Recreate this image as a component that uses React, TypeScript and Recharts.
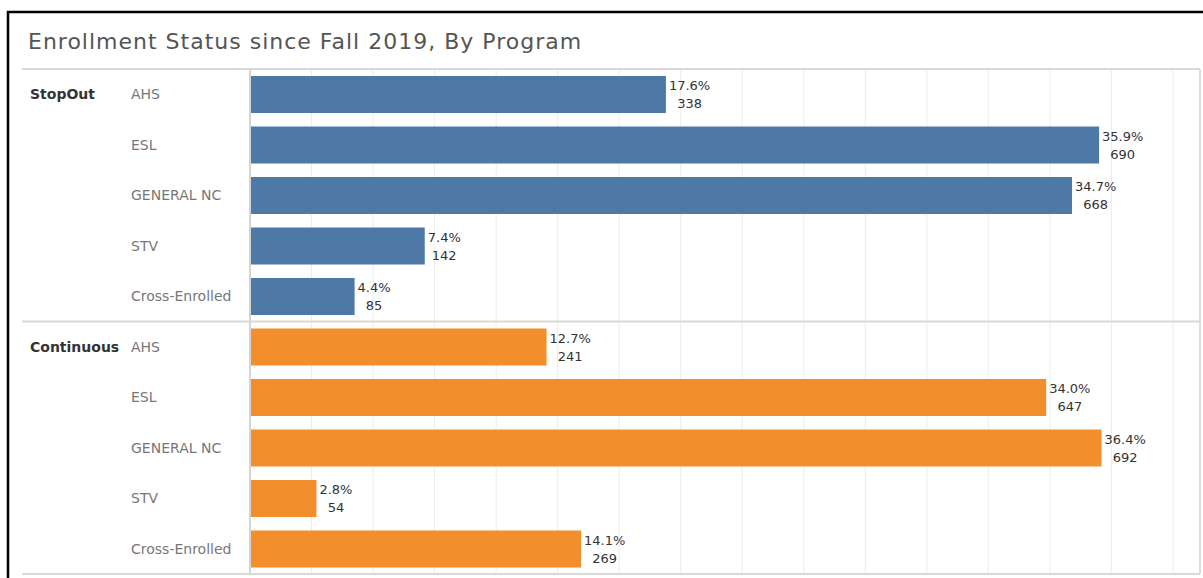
import React from "react";
import {
  Bar,
  BarChart,
  CartesianGrid,
  Cell,
  LabelList,
  ReferenceLine,
  XAxis,
  YAxis,
} from "recharts";

const programs = ["AHS", "ESL", "GENERAL NC", "STV", "Cross-Enrolled"];
const groups = ["StopOut", "Continuous"];
const stopOutCounts = [338, 690, 668, 142, 85];
const stopOutShares = [17.6, 35.9, 34.7, 7.4, 4.4];
const continuousCounts = [241, 647, 692, 54, 269];
const continuousShares = [12.7, 34.0, 36.4, 2.8, 14.1];
const countTicks = [0, 50, 100, 150, 200, 250, 300, 350, 400, 450, 500, 550, 600, 650, 700, 750];
const countMax = 772;
const groupColors = ["#4e79a7", "#f28e2b"];

const rows = [
  ...programs.map((p, i) => ({ key: `${groups[0]}|${p}`, group: 0, count: stopOutCounts[i], share: stopOutShares[i] })),
  ...programs.map((p, i) => ({ key: `${groups[1]}|${p}`, group: 1, count: continuousCounts[i], share: continuousShares[i] })),
];

const W = 1203;
const H = 578;
const TOP = 69;
const BOTTOM = 4;
const ROW_H = (H - TOP - BOTTOM) / rows.length;
const FONT = "'DejaVu Sans', sans-serif";

function ProgramTick(props: any) {
  const { y, payload, index } = props;
  const [group, program] = String(payload.value).split("|");
  const first = index % programs.length === 0;
  const last = index === rows.length - 1;
  return (
    <g>
      {first && (
        <>
          <line x1={22} x2={1200} y1={y - ROW_H / 2} y2={y - ROW_H / 2} stroke="#d9d9d9" strokeWidth={2} />
          <text x={30} y={y} dy="0.35em" fontSize={14} fontWeight={700} fill="#333" fontFamily={FONT}>
            {group}
          </text>
        </>
      )}
      {last && <line x1={22} x2={1200} y1={y + ROW_H / 2} y2={y + ROW_H / 2} stroke="#d9d9d9" strokeWidth={2} />}
      <text x={131} y={y} dy="0.35em" fontSize={14} fill="#777" fontFamily={FONT}>
        {program}
      </text>
    </g>
  );
}

// rough DejaVu Sans widths at 13px, to centre the count under the share
function textWidth(s: string) {
  let w = 0;
  for (const c of s) w += c === "." ? 4.1 : c === "%" ? 12.3 : 8.3;
  return w;
}

function ValueLabel(props: any) {
  const { x, y, width, height, value, index } = props;
  const pct = `${rows[index].share.toFixed(1)}%`;
  const end = x + width + 3;
  const cy = y + height / 2;
  return (
    <g fontFamily={FONT} fontSize={13} fill="#333">
      <text x={end} y={cy - 9} dy="0.35em">{pct}</text>
      <text x={end + textWidth(pct) / 2} y={cy + 9} dy="0.35em" textAnchor="middle">{value}</text>
    </g>
  );
}

export default function App() {
  return (
    <div style={{ position: "absolute", left: 0, top: 0, width: W, height: H, background: "#fff", overflow: "hidden" }}>
      <BarChart
        width={W}
        height={H}
        layout="vertical"
        data={rows}
        margin={{ top: TOP, right: 3, bottom: BOTTOM, left: 20 }}
      >
        <CartesianGrid horizontal={false} stroke="#ececec" />
        <XAxis type="number" domain={[0, countMax]} ticks={countTicks} hide />
        <YAxis
          type="category"
          dataKey="key"
          width={230}
          tickLine={false}
          axisLine={{ stroke: "#d4d4d4", strokeWidth: 2 }}
          tick={<ProgramTick />}
          interval={0}
        />
        <ReferenceLine x={countMax} stroke="#dcdcdc" strokeWidth={2} />
        <Bar dataKey="count" barSize={37} isAnimationActive={false}>
          {rows.map((r, i) => (
            <Cell key={i} fill={groupColors[r.group]} />
          ))}
          <LabelList dataKey="count" content={<ValueLabel />} />
        </Bar>
      </BarChart>
      <svg width={W} height={H} style={{ position: "absolute", left: 0, top: 0, pointerEvents: "none" }}>
        <line x1={7} x2={W} y1={12} y2={12} stroke="#000" strokeWidth={2.5} />
        <line x1={8} x2={8} y1={11} y2={H} stroke="#000" strokeWidth={2.5} />
        <text x={28} y={49} fontSize={22} letterSpacing={1} fill="#555" fontFamily={FONT}>
          Enrollment Status since Fall 2019, By Program
        </text>
      </svg>
    </div>
  );
}
